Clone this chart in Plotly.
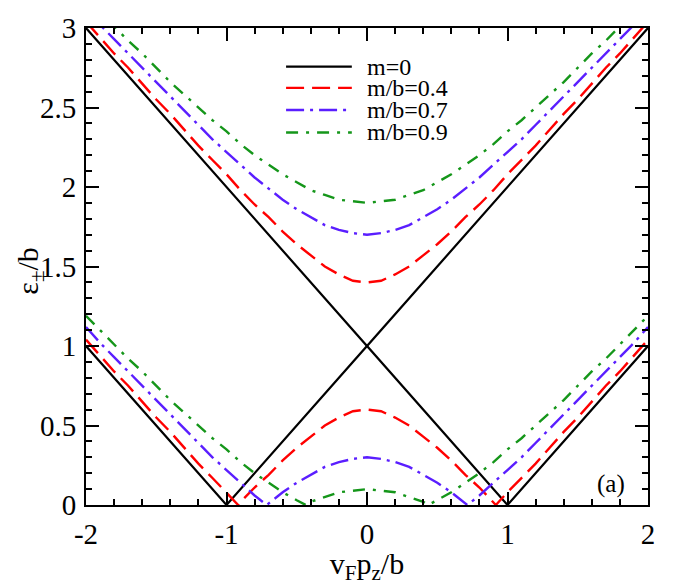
import plotly.graph_objects as go

# ---- data ----
x_m0_upper = [-2.0, 0.0, 2.0]
y_m0_upper = [3.0, 1.0, 3.0]
x_m0_lower = [-2.0, -1.0, 0.0, 1.0, 2.0]
y_m0_lower = [1.0, 0.0, 1.0, 0.0, 1.0]

x_grid = [-2.0, -1.9, -1.8, -1.7, -1.6, -1.5, -1.4, -1.3, -1.2, -1.1, -1.0,
          -0.9, -0.8, -0.7, -0.6, -0.5, -0.4, -0.3, -0.2, -0.1, 0.0,
          0.1, 0.2, 0.3, 0.4, 0.5, 0.6, 0.7, 0.8, 0.9, 1.0,
          1.1, 1.2, 1.3, 1.4, 1.5, 1.6, 1.7, 1.8, 1.9, 2.0]

# m/b = 0.4
y_04_upper = [3.04, 2.94, 2.84, 2.75, 2.65, 2.55, 2.46, 2.36, 2.26, 2.17, 2.08,
              1.98, 1.89, 1.81, 1.72, 1.64, 1.57, 1.50, 1.45, 1.41, 1.40,
              1.41, 1.45, 1.50, 1.57, 1.64, 1.72, 1.81, 1.89, 1.98, 2.08,
              2.17, 2.26, 2.36, 2.46, 2.55, 2.65, 2.75, 2.84, 2.94, 3.04]
x_04_lower = [-2.0, -1.9, -1.8, -1.7, -1.6, -1.5, -1.4, -1.3, -1.2, -1.1, -1.0, -0.917,
              -0.9, -0.8, -0.7, -0.6, -0.5, -0.4, -0.3, -0.2, -0.1, 0.0,
              0.1, 0.2, 0.3, 0.4, 0.5, 0.6, 0.7, 0.8, 0.9, 0.917, 1.0,
              1.1, 1.2, 1.3, 1.4, 1.5, 1.6, 1.7, 1.8, 1.9, 2.0]
y_04_lower = [1.04, 0.94, 0.84, 0.75, 0.65, 0.55, 0.46, 0.36, 0.26, 0.17, 0.08, 0.0,
              0.02, 0.11, 0.19, 0.28, 0.36, 0.43, 0.50, 0.55, 0.59, 0.60,
              0.59, 0.55, 0.50, 0.43, 0.36, 0.28, 0.19, 0.11, 0.02, 0.0, 0.08,
              0.17, 0.26, 0.36, 0.46, 0.55, 0.65, 0.75, 0.84, 0.94, 1.04]

# m/b = 0.7
y_07_upper = [3.12, 3.02, 2.93, 2.84, 2.75, 2.66, 2.57, 2.48, 2.39, 2.30, 2.22,
              2.14, 2.06, 1.99, 1.92, 1.86, 1.81, 1.76, 1.73, 1.71, 1.70,
              1.71, 1.73, 1.76, 1.81, 1.86, 1.92, 1.99, 2.06, 2.14, 2.22,
              2.30, 2.39, 2.48, 2.57, 2.66, 2.75, 2.84, 2.93, 3.02, 3.12]
x_07_lower = [-2.0, -1.9, -1.8, -1.7, -1.6, -1.5, -1.4, -1.3, -1.2, -1.1, -1.0,
              -0.9, -0.8, -0.714, -0.7, -0.6, -0.5, -0.4, -0.3, -0.2, -0.1, 0.0,
              0.1, 0.2, 0.3, 0.4, 0.5, 0.6, 0.7, 0.714, 0.8, 0.9, 1.0,
              1.1, 1.2, 1.3, 1.4, 1.5, 1.6, 1.7, 1.8, 1.9, 2.0]
y_07_lower = [1.12, 1.02, 0.93, 0.84, 0.75, 0.66, 0.57, 0.48, 0.39, 0.30, 0.22,
              0.14, 0.06, 0.0, 0.01, 0.08, 0.14, 0.19, 0.24, 0.27, 0.29, 0.30,
              0.29, 0.27, 0.24, 0.19, 0.14, 0.08, 0.01, 0.0, 0.06, 0.14, 0.22,
              0.30, 0.39, 0.48, 0.57, 0.66, 0.75, 0.84, 0.93, 1.02, 1.12]

# m/b = 0.9
y_09_upper = [3.19, 3.10, 3.01, 2.92, 2.84, 2.75, 2.66, 2.58, 2.50, 2.42, 2.35,
              2.27, 2.20, 2.14, 2.08, 2.03, 1.98, 1.95, 1.92, 1.91, 1.90,
              1.91, 1.92, 1.95, 1.98, 2.03, 2.08, 2.14, 2.20, 2.27, 2.35,
              2.42, 2.50, 2.58, 2.66, 2.75, 2.84, 2.92, 3.01, 3.10, 3.19]
x_09_lower = [-2.0, -1.9, -1.8, -1.7, -1.6, -1.5, -1.4, -1.3, -1.2, -1.1, -1.0,
              -0.9, -0.8, -0.7, -0.6, -0.5, -0.436, -0.4, -0.3, -0.2, -0.1, 0.0,
              0.1, 0.2, 0.3, 0.4, 0.436, 0.5, 0.6, 0.7, 0.8, 0.9, 1.0,
              1.1, 1.2, 1.3, 1.4, 1.5, 1.6, 1.7, 1.8, 1.9, 2.0]
y_09_lower = [1.19, 1.10, 1.01, 0.92, 0.84, 0.75, 0.66, 0.58, 0.50, 0.42, 0.35,
              0.27, 0.20, 0.14, 0.08, 0.03, 0.0, 0.02, 0.05, 0.08, 0.09, 0.10,
              0.09, 0.08, 0.05, 0.02, 0.0, 0.03, 0.08, 0.14, 0.20, 0.27, 0.35,
              0.42, 0.50, 0.58, 0.66, 0.75, 0.84, 0.92, 1.01, 1.10, 1.19]

labels = ["m=0", "m/b=0.4", "m/b=0.7", "m/b=0.9"]
x_tickvals = [-2, -1, 0, 1, 2]
x_ticktext = ["-2", "-1", "0", "1", "2"]
y_tickvals = [0, 0.5, 1, 1.5, 2, 2.5, 3]
y_ticktext = ["0", "0.5", "1", "1.5", "2", "2.5", "3"]

colors = ["#000000", "#ff0000", "#5a1eff", "#15961a"]
dashes = ["solid", "18px,8px", "18px,6px,3px,6px", "12px,8px,3px,8px"]
widths = [2.2, 2.4, 2.4, 2.4]

series = [
    (x_m0_upper, y_m0_upper, x_m0_lower, y_m0_lower),
    (x_grid, y_04_upper, x_04_lower, y_04_lower),
    (x_grid, y_07_upper, x_07_lower, y_07_lower),
    (x_grid, y_09_upper, x_09_lower, y_09_lower),
]

FONT = "Liberation Serif"
fig = go.Figure()
for i, (xu, yu, xl, yl) in enumerate(series):
    line = dict(color=colors[i], width=widths[i], dash=dashes[i])
    fig.add_trace(go.Scatter(x=xu, y=yu, mode="lines", line=line, name=labels[i],
                             legendgroup=labels[i], showlegend=False))
    fig.add_trace(go.Scatter(x=xl, y=yl, mode="lines", line=line, name=labels[i],
                             legendgroup=labels[i], showlegend=False))

axis_common = dict(
    showline=True, linecolor="black", linewidth=2, mirror="allticks",
    ticks="inside", ticklen=13, tickwidth=2, tickcolor="black",
    showgrid=False, zeroline=False,
    tickfont=dict(family=FONT, size=29, color="black"),
)

fig.update_xaxes(range=[-2, 2], tickmode="array", tickvals=x_tickvals, ticktext=x_ticktext,
                 minor=dict(ticks="inside", ticklen=6, tickwidth=1.5, dtick=0.2, tick0=-2,
                            tickcolor="black"),
                 title=dict(text="v<sub>F</sub>p<sub>z</sub>/b",
                            font=dict(family=FONT, size=30, color="black"), standoff=2),
                 ticklabelstandoff=2,
                 **axis_common)
fig.update_yaxes(range=[0, 3], tickmode="array", tickvals=y_tickvals, ticktext=y_ticktext,
                 minor=dict(ticks="inside", ticklen=6, tickwidth=1.5, dtick=0.1, tick0=0,
                            tickcolor="black"),
                 ticklabelstandoff=2,
                 **axis_common)

# y-axis title as a rotated annotation
fig.add_annotation(xref="paper", yref="paper", x=-0.099, y=0.49,
                   xanchor="center", yanchor="middle", textangle=-90,
                   text="ε<sub>±</sub>/b", showarrow=False,
                   font=dict(family=FONT, size=30, color="black"))

fig.add_annotation(x=1.74, y=0.13, text="(a)", showarrow=False,
                   font=dict(family=FONT, size=25, color="black"))

# manual legend (line samples + labels) placed in paper coordinates
leg_rows = [0.919, 0.8745, 0.828, 0.781]
for i, lab in enumerate(labels):
    fig.add_shape(type="line", xref="paper", yref="paper",
                  x0=0.356, x1=0.473, y0=leg_rows[i], y1=leg_rows[i],
                  line=dict(color=colors[i], width=widths[i], dash=dashes[i]))
    fig.add_annotation(xref="paper", yref="paper", x=0.496, y=leg_rows[i],
                       xanchor="left", yanchor="middle", text=lab, showarrow=False,
                       height=22, valign="middle",
                       font=dict(family=FONT, size=24, color="black"))

fig.update_layout(
    width=688, height=585,
    margin=dict(l=86, r=40, t=22, b=69),
    plot_bgcolor="white", paper_bgcolor="white",
    showlegend=False,
)

fig.write_html("out.html")
